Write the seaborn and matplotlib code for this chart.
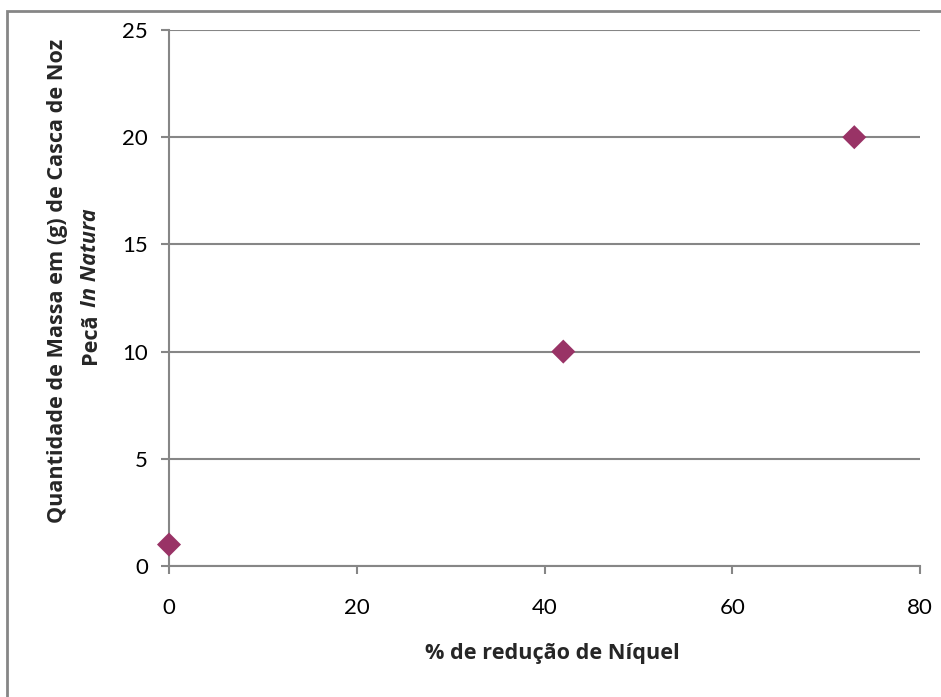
import matplotlib
matplotlib.use("Agg")
import matplotlib.pyplot as plt
from matplotlib.patches import Rectangle
import seaborn as sns
import pandas as pd

# Nickel reduction (%) vs. mass of raw pecan shell (g)
reducao_niquel = [0, 42, 73]
massa_casca = [1, 10, 20]

x_ticks = [0, 20, 40, 60, 80]
y_ticks = [0, 5, 10, 15, 20, 25]

df = pd.DataFrame({"reducao": reducao_niquel, "massa": massa_casca})

sns.set_theme(style="white")
plt.rcParams["font.family"] = ["Lato", "DejaVu Sans"]

W, H = 941, 697
fig = plt.figure(figsize=(W / 100, H / 100), dpi=100)
ax = fig.add_axes([169 / W, 1 - 566 / H, (920 - 169) / W, (566 - 30) / H])

grid_c = "#868686"
sns.scatterplot(data=df, x="reducao", y="massa", marker="D", s=150,
                color="#993366", edgecolor="none", linewidth=0, ax=ax,
                zorder=3, clip_on=False)

ax.set_xlim(0, 80)
ax.set_ylim(0, 25)
ax.set_xticks(x_ticks)
ax.set_yticks(y_ticks)
ax.set_xticklabels([str(v) for v in x_ticks])
ax.set_yticklabels([str(v) for v in y_ticks])
ax.yaxis.grid(True, color=grid_c, linewidth=1.5)
ax.xaxis.grid(False)
ax.set_axisbelow(True)

for side in ("top", "right"):
    ax.spines[side].set_visible(False)
for side in ("left", "bottom"):
    ax.spines[side].set_color(grid_c)
    ax.spines[side].set_linewidth(1.5)

ax.tick_params(axis="both", which="major", direction="out", length=6,
               width=1.5, color=grid_c, labelsize=16, labelcolor="black")
ax.tick_params(axis="x", pad=17, bottom=True)
ax.tick_params(axis="y", pad=9, left=True)

ax.set_xlabel("")
ax.set_ylabel("")

lab_font = ["Open Sans", "DejaVu Sans"]
lab_fs = 15.6
fig.text(552 / W, 1 - 653 / H, "% de redução de Níquel", ha="center",
         va="center", fontsize=lab_fs, fontweight="bold", family=lab_font)

fig.text(58 / W, 1 - 281 / H, "Quantidade de Massa em (g) de Casca de Noz",
         rotation=90, ha="center", va="center", fontsize=lab_fs,
         fontweight="bold", family=lab_font)
fig.text(91 / W, 1 - 313 / H, "Pecã", rotation=90, ha="center",
         va="top", fontsize=lab_fs, fontweight="bold", family=lab_font)
fig.text(91 / W, 1 - 307 / H, "In Natura", rotation=90, ha="center",
         va="bottom", fontsize=lab_fs, fontweight="bold", fontstyle="italic",
         family=lab_font)

# chart frame
fig.patches.append(Rectangle((7 / W, -0.05), 1.1, 1 - 11 / H + 0.05,
                             transform=fig.transFigure, fill=False,
                             edgecolor=grid_c, linewidth=2))

fig.savefig("out.png", dpi=100)
